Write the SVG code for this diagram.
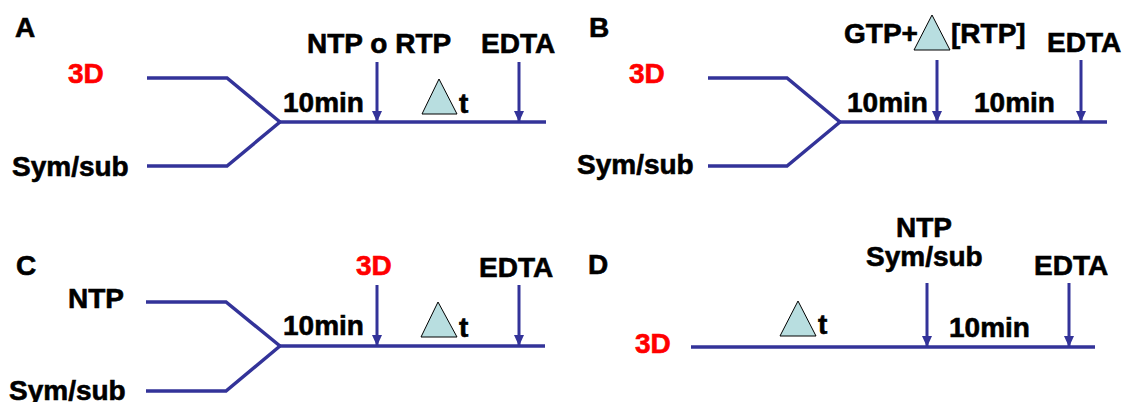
<svg xmlns="http://www.w3.org/2000/svg" width="1126" height="402" viewBox="0 0 1126 402">
<style>
text{font-family:"Liberation Sans",Arial,sans-serif;font-weight:bold;font-size:28px;fill:#000;stroke:#000;stroke-width:0.6}
.red{fill:#ff0000;stroke:#ff0000}
.ln{fill:none;stroke:#333399;stroke-width:3.5;stroke-linejoin:miter}
.ar{fill:none;stroke:#333399;stroke-width:3}
.tri{fill:#b8dee0;stroke:#000;stroke-width:1}
</style>
<defs>
<marker id="ah" markerUnits="userSpaceOnUse" markerWidth="11" markerHeight="10" refX="11" refY="5" orient="auto" viewBox="0 0 11 10">
<path d="M0,0 L11,5 L0,10 z" fill="#333399"/>
</marker>
</defs>
<rect width="1126" height="402" fill="#fff"/>
<g id="connectors">
<polyline class="ln" points="147,78 227,78 280,122"/>
<polyline class="ln" points="147,166 227,166 280,122"/>
<line class="ln" x1="280" y1="122" x2="546" y2="122"/>
<line class="ar" x1="377" y1="62" x2="377" y2="122" marker-end="url(#ah)"/>
<line class="ar" x1="519" y1="62" x2="519" y2="122" marker-end="url(#ah)"/>
<polyline class="ln" points="708,78 787,78 840,122"/>
<polyline class="ln" points="708,166 787,166 840,122"/>
<line class="ln" x1="840" y1="122" x2="1107" y2="122"/>
<line class="ar" x1="937" y1="60" x2="937" y2="122" marker-end="url(#ah)"/>
<line class="ar" x1="1081" y1="60" x2="1081" y2="122" marker-end="url(#ah)"/>
<polyline class="ln" points="146,302 226,302 280,346"/>
<polyline class="ln" points="146,391 226,391 280,346"/>
<line class="ln" x1="280" y1="346" x2="545" y2="346"/>
<line class="ar" x1="377" y1="285" x2="377" y2="346" marker-end="url(#ah)"/>
<line class="ar" x1="519" y1="285" x2="519" y2="346" marker-end="url(#ah)"/>
<line class="ln" x1="691" y1="347" x2="1095" y2="347"/>
<line class="ar" x1="927" y1="283" x2="927" y2="347" marker-end="url(#ah)"/>
<line class="ar" x1="1069" y1="283" x2="1069" y2="347" marker-end="url(#ah)"/>
</g>
<g id="panelA">
<text x="15" y="37">A</text>
<text class="red" x="68" y="83">3D</text>
<text x="12" y="176">Sym/sub</text>
<text x="307" y="53">NTP o RTP</text>
<text x="481" y="53">EDTA</text>
<text x="283" y="112">10min</text>
<polygon class="tri" points="439,79 422,114 457,114"/>
<text x="459" y="113">t</text>
</g>
<g id="panelB">
<text x="589" y="37">B</text>
<text class="red" x="629" y="83">3D</text>
<text x="577" y="174">Sym/sub</text>
<text x="844" y="43">GTP+</text>
<polygon class="tri" points="932,15 914,50 950,50"/>
<text x="951" y="43">[RTP]</text>
<text x="1047" y="52">EDTA</text>
<text x="847" y="112">10min</text>
<text x="974" y="112">10min</text>
</g>
<g id="panelC">
<text x="16" y="275">C</text>
<text x="68" y="308">NTP</text>
<text x="9" y="400">Sym/sub</text>
<text class="red" x="356" y="275">3D</text>
<text x="479" y="277">EDTA</text>
<text x="283" y="335">10min</text>
<polygon class="tri" points="438,302 421,337 457,337"/>
<text x="459" y="337">t</text>
</g>
<g id="panelD">
<text x="588" y="274">D</text>
<text class="red" x="635" y="353">3D</text>
<text x="924" y="237" text-anchor="middle">NTP</text>
<text x="866" y="266">Sym/sub</text>
<text x="1034" y="275">EDTA</text>
<text x="949" y="337">10min</text>
<polygon class="tri" points="798,301 780,336 816,336"/>
<text x="818" y="334">t</text>
</g>
</svg>
